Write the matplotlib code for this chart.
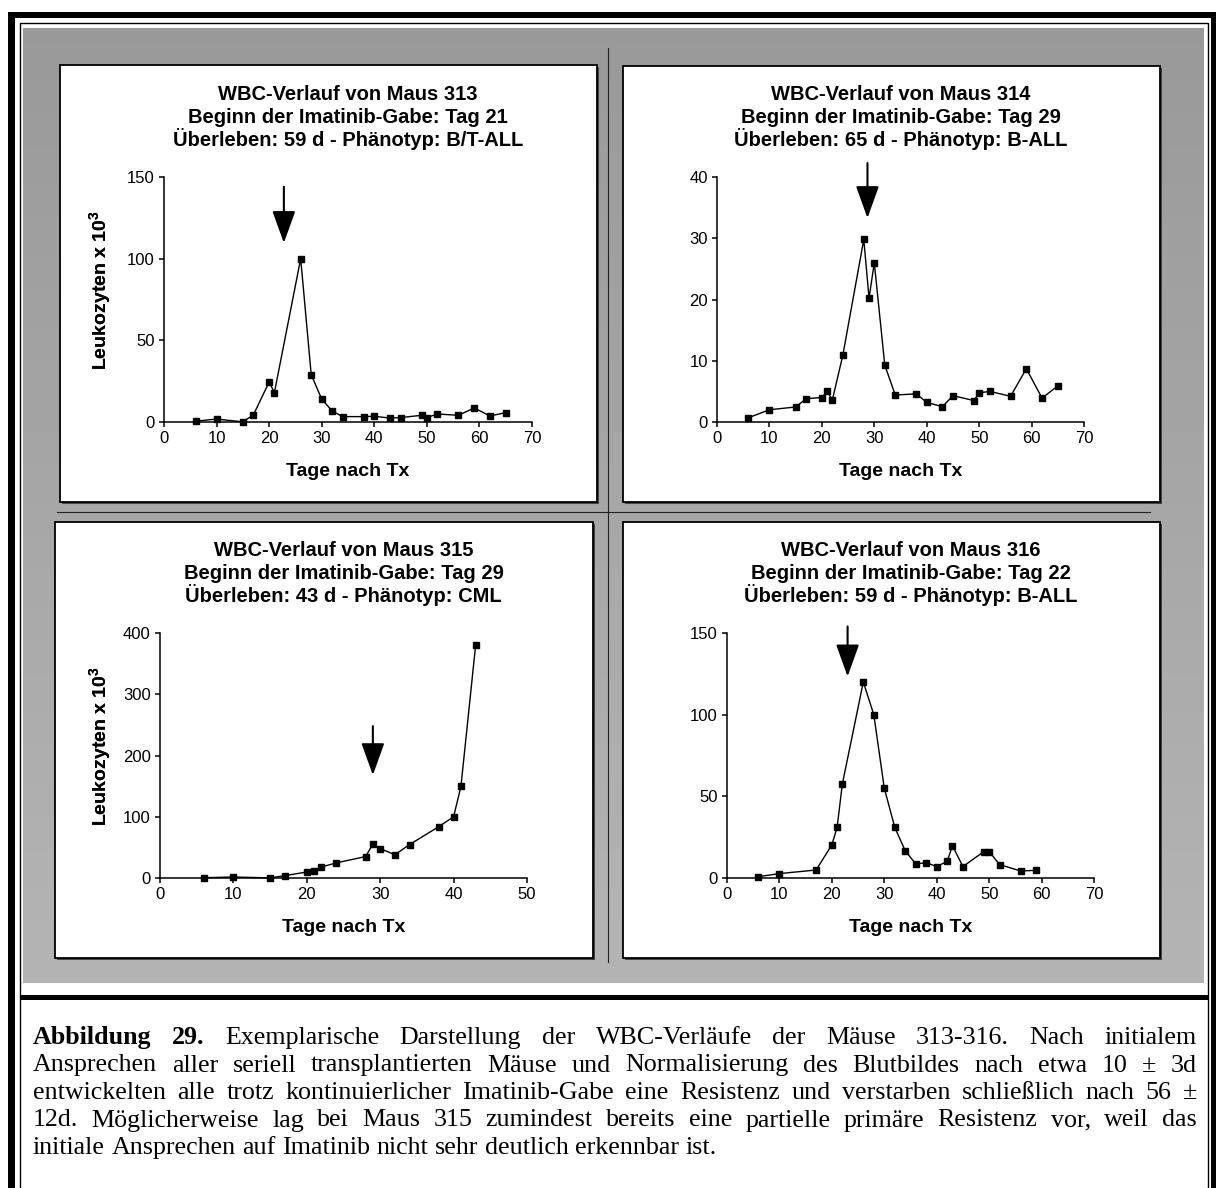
import numpy as np
import matplotlib
matplotlib.use('Agg')
import matplotlib.pyplot as plt
from matplotlib.patches import Rectangle
from matplotlib.transforms import offset_copy

plt.rcParams['font.family'] = ['Liberation Sans', 'DejaVu Sans']
plt.rcParams['mathtext.fontset'] = 'custom'
plt.rcParams['mathtext.rm'] = 'Liberation Sans'
plt.rcParams['mathtext.bf'] = 'Liberation Sans:bold'

# WBC values (x 10^3) per mouse
days_313 = [6, 10, 15, 17, 20, 21, 26, 28, 30, 32, 34, 38, 40, 43, 45, 49, 50, 52, 56, 59, 62, 65]
wbc_313 = [0.5, 1.8, 0.1, 4.3, 24.5, 18, 100, 29, 14, 6.7, 3.3, 3.3, 3.5, 2.4, 2.7, 4.1, 2.7, 4.9, 4.1, 8.6, 3.7, 5.7]

days_314 = [6, 10, 15, 17, 20, 21, 22, 24, 28, 29, 30, 32, 34, 38, 40, 43, 45, 49, 50, 52, 56, 59, 62, 65]
wbc_314 = [0.7, 2.0, 2.45, 3.8, 4.0, 5.0, 3.6, 10.9, 29.8, 20.2, 26.0, 9.3, 4.4, 4.6, 3.2, 2.5, 4.3, 3.5, 4.75, 5.0, 4.2, 8.7, 3.9, 5.9]

days_315 = [6, 10, 15, 17, 20, 21, 22, 24, 28, 29, 30, 32, 34, 38, 40, 41, 43]
wbc_315 = [0.5, 1.6, 0.2, 3.8, 9.8, 11.5, 18, 24.6, 35, 55, 48, 38, 54.6, 84, 100, 149.5, 380]

days_316 = [6, 10, 17, 20, 21, 22, 26, 28, 30, 32, 34, 36, 38, 40, 42, 43, 45, 49, 50, 52, 56, 59]
wbc_316 = [0.8, 2.7, 4.9, 20.3, 31, 57.5, 120, 100, 55, 31, 16.6, 8.6, 9.4, 7.0, 10.2, 19.8, 7.0, 16.2, 16.2, 8.2, 4.3, 4.7]

titles = [
    ["WBC-Verlauf von Maus 313", "Beginn der Imatinib-Gabe: Tag 21", "Überleben: 59 d - Phänotyp: B/T-ALL"],
    ["WBC-Verlauf von Maus 314", "Beginn der Imatinib-Gabe: Tag 29", "Überleben: 65 d - Phänotyp: B-ALL"],
    ["WBC-Verlauf von Maus 315", "Beginn der Imatinib-Gabe: Tag 29", "Überleben: 43 d - Phänotyp: CML"],
    ["WBC-Verlauf von Maus 316", "Beginn der Imatinib-Gabe: Tag 22", "Überleben: 59 d - Phänotyp: B-ALL"],
]
x_max = [70, 70, 50, 70]
y_max = [150, 40, 400, 150]
y_step = [50, 10, 100, 50]
# arrow: day, top of shaft, tip
arrow_day = [22.8, 28.7, 29, 23]
arrow_top = [144, 42.3, 248, 154]
arrow_tip = [109.6, 33.3, 168, 123.4]

caption = [
    "Abbildung 29. Exemplarische Darstellung der WBC-Verläufe der Mäuse 313-316. Nach initialem",
    "Ansprechen aller seriell transplantierten Mäuse und Normalisierung des Blutbildes nach etwa 10 ± 3d",
    "entwickelten alle trotz kontinuierlicher Imatinib-Gabe eine Resistenz und verstarben schließlich nach 56 ±",
    "12d. Möglicherweise lag bei Maus 315 zumindest bereits eine partielle primäre Resistenz vor, weil das",
    "initiale Ansprechen auf Imatinib nicht sehr deutlich erkennbar ist.",
]

W, H = 1218, 1188
fig = plt.figure(figsize=(W / 100, H / 100), dpi=100)

# background layer in pixel coordinates
bg = fig.add_axes([0, 0, 1, 1])
grad = np.linspace(153, 180, 256)[:, None] / 255
bg.imshow(grad, cmap='gray', vmin=0, vmax=1, extent=(23, 1204, 983, 28), aspect='auto', zorder=0)
bg.set_xlim(0, W)
bg.set_ylim(H, 0)
bg.axis('off')

# page border (thick + thin)
bg.add_patch(Rectangle((8, 12), 1208, 6, fc='black', ec='none', zorder=1))
bg.add_patch(Rectangle((8, 12), 7, 1176, fc='black', ec='none', zorder=1))
bg.add_patch(Rectangle((1211, 12), 5, 1176, fc='black', ec='none', zorder=1))
bg.plot([19.5, 19.5, 1207.5, 1207.5], [1188, 22.5, 22.5, 1188], color='black', lw=1.0, zorder=1)
bg.add_patch(Rectangle((19.5, 995), 1188, 5, fc='black', ec='none', zorder=1))
bg.plot([20, 1207], [1187.5, 1187.5], color='#cccccc', lw=0.8, zorder=1)

# dividers between panels
bg.plot([608, 608], [48, 962], color='#222222', lw=0.8, zorder=1)
bg.plot([57, 1150], [511.5, 511.5], color='#222222', lw=0.8, zorder=1)

boxes = [(60, 65, 597, 502), (623, 66, 1160, 502), (55, 522, 593, 958), (623, 522, 1160, 958)]
for x0, y0, x1, y1 in boxes:
    bg.add_patch(Rectangle((x0 + 2, y0 + 2), x1 - x0, y1 - y0, fc='#444444', ec='none', zorder=2))
    bg.add_patch(Rectangle((x0, y0), x1 - x0, y1 - y0, fc='white', ec='black', lw=1.3, zorder=3))

# axes areas (pixels: left, top, right, bottom)
axes_px = [(164, 177, 532, 422), (717, 177, 1084, 422), (160, 633, 527, 878), (727, 633, 1094, 878)]
series = [(days_313, wbc_313), (days_314, wbc_314), (days_315, wbc_315), (days_316, wbc_316)]

for i, (l, t, r, b) in enumerate(axes_px):
    ax = fig.add_axes([l / W, 1 - b / H, (r - l) / W, (b - t) / H])
    ax.patch.set_visible(False)
    x, y = series[i]
    ax.plot(x, y, color='black', lw=1.0, marker='s', ms=4.0, clip_on=False, zorder=3)
    ax.set_xlim(0, x_max[i])
    ax.set_ylim(0, y_max[i])
    ax.set_xticks(range(0, x_max[i] + 1, 10))
    ax.set_yticks(range(0, y_max[i] + 1, y_step[i]))
    for s in ['top', 'right']:
        ax.spines[s].set_visible(False)
    for s in ['left', 'bottom']:
        ax.spines[s].set_linewidth(1.1)
    ax.tick_params(direction='out', length=3.6, width=1.1, labelsize=12, pad=3)

    ax.annotate('', xy=(arrow_day[i], arrow_tip[i]), xytext=(arrow_day[i], arrow_top[i]),
                arrowprops=dict(arrowstyle='-|>,head_length=2.0,head_width=0.72', lw=1.5,
                                color='black', shrinkA=0, shrinkB=0, mutation_scale=10))

    for line, off in zip(titles[i], [77, 54, 31]):
        tr = offset_copy(ax.transAxes, fig=fig, x=0, y=off, units='dots')
        ax.text(0.5, 1, line, transform=tr, ha='center', va='baseline',
                fontsize=14.5, fontweight='bold')

    ax.set_xlabel('Tage nach Tx', fontsize=14, fontweight='bold')
    ax.xaxis.label.set_va('center')
    ax.xaxis.set_label_coords(0.5, -50 / (b - t))
    ax.set_ylabel(r'Leukozyten x 10$^{\mathbf{3}}$', fontsize=14, fontweight='bold')
    ax.yaxis.label.set_va('center')
    ax.yaxis.set_label_coords(-(l - 101) / (r - l), 0.5 + 9 / (b - t))

# justified caption; size chosen so the longest line is only slightly stretched
renderer = fig.canvas.get_renderer()
left, right = 33, 1197
baselines = [1044, 1071.5, 1099, 1126.5, 1154]


def natural_width(line, size):
    t = bg.text(0, 0, line, family='Liberation Serif', fontsize=size)
    wd = t.get_window_extent(renderer).width
    t.remove()
    return wd


cap_size = 17 * (right - left - 55) / natural_width(caption[2], 17)
space = 0.25 * cap_size * 100 / 72
for n, line in enumerate(caption):
    words = line.split()
    texts = []
    for k, w in enumerate(words):
        bold = (n == 0 and k < 2)
        texts.append(bg.text(0, baselines[n], w, family='Liberation Serif', fontsize=cap_size,
                             fontweight='bold' if bold else 'normal', va='baseline', ha='left', zorder=5))
    widths = [t.get_window_extent(renderer).width for t in texts]
    if n < len(caption) - 1:
        gap = (right - left - sum(widths)) / (len(words) - 1)
    else:
        gap = space
    xpos = left
    for t, wd in zip(texts, widths):
        t.set_x(xpos)
        xpos += wd + gap

fig.savefig('out.png', dpi=100)
